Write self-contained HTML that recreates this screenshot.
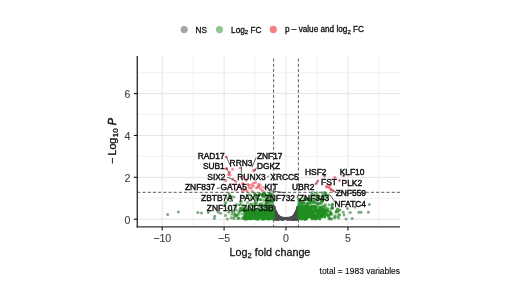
<!DOCTYPE html>
<html><head><meta charset="utf-8"><style>
html,body{margin:0;padding:0;background:#fff;}
svg{display:block;filter:blur(0.3px);}
text{font-family:"Liberation Sans",sans-serif;fill:#1a1a1a;}
.tk{font-size:10.6px;fill:#444;stroke:#444;stroke-width:0.12px;}
.ti{font-size:10.75px;fill:#111;stroke:#111;stroke-width:0.26px;}
.lb{font-size:8.4px;fill:#111;stroke:#111;stroke-width:0.42px;}
.lg{font-size:8.2px;fill:#111;stroke:#111;stroke-width:0.3px;}
.cap{font-size:8.45px;fill:#111;stroke:#111;stroke-width:0.15px;}
</style></head><body>
<svg width="520" height="292" viewBox="0 0 520 292">
<rect width="520" height="292" fill="#fff"/>
<line x1="162.20" y1="56.0" x2="162.20" y2="226.9" stroke="#e5e5e5" stroke-width="1.0"/>
<line x1="193.15" y1="56.0" x2="193.15" y2="226.9" stroke="#ececec" stroke-width="0.8"/>
<line x1="224.10" y1="56.0" x2="224.10" y2="226.9" stroke="#e5e5e5" stroke-width="1.0"/>
<line x1="255.05" y1="56.0" x2="255.05" y2="226.9" stroke="#ececec" stroke-width="0.8"/>
<line x1="286.00" y1="56.0" x2="286.00" y2="226.9" stroke="#e5e5e5" stroke-width="1.0"/>
<line x1="316.95" y1="56.0" x2="316.95" y2="226.9" stroke="#ececec" stroke-width="0.8"/>
<line x1="347.90" y1="56.0" x2="347.90" y2="226.9" stroke="#e5e5e5" stroke-width="1.0"/>
<line x1="378.85" y1="56.0" x2="378.85" y2="226.9" stroke="#ececec" stroke-width="0.8"/>
<line x1="137.3" y1="219.20" x2="400.0" y2="219.20" stroke="#e5e5e5" stroke-width="1.0"/>
<line x1="137.3" y1="198.27" x2="400.0" y2="198.27" stroke="#ececec" stroke-width="0.8"/>
<line x1="137.3" y1="177.34" x2="400.0" y2="177.34" stroke="#e5e5e5" stroke-width="1.0"/>
<line x1="137.3" y1="156.41" x2="400.0" y2="156.41" stroke="#ececec" stroke-width="0.8"/>
<line x1="137.3" y1="135.48" x2="400.0" y2="135.48" stroke="#e5e5e5" stroke-width="1.0"/>
<line x1="137.3" y1="114.55" x2="400.0" y2="114.55" stroke="#ececec" stroke-width="0.8"/>
<line x1="137.3" y1="93.62" x2="400.0" y2="93.62" stroke="#e5e5e5" stroke-width="1.0"/>
<line x1="137.3" y1="72.69" x2="400.0" y2="72.69" stroke="#ececec" stroke-width="0.8"/>
<line x1="273.62" y1="58.5" x2="273.62" y2="226.9" stroke="#4a4a4a" stroke-width="0.9" stroke-dasharray="3.1 2.09"/>
<line x1="298.38" y1="58.5" x2="298.38" y2="226.9" stroke="#4a4a4a" stroke-width="0.9" stroke-dasharray="3.1 2.09"/>
<g fill="#4d4d4d" fill-opacity="0.75"><circle cx="289.1" cy="218.2" r="1.5"/><circle cx="298.1" cy="212.3" r="1.5"/><circle cx="290.2" cy="218.3" r="1.5"/><circle cx="281.2" cy="218.7" r="1.5"/><circle cx="295.2" cy="217.8" r="1.5"/><circle cx="277.1" cy="216.0" r="1.5"/><circle cx="297.4" cy="212.8" r="1.5"/><circle cx="280.8" cy="218.3" r="1.5"/><circle cx="295.1" cy="218.6" r="1.5"/><circle cx="288.8" cy="218.5" r="1.5"/><circle cx="281.4" cy="218.1" r="1.5"/><circle cx="288.4" cy="218.7" r="1.5"/><circle cx="295.7" cy="213.7" r="1.5"/><circle cx="296.7" cy="211.8" r="1.5"/><circle cx="297.7" cy="211.6" r="1.5"/><circle cx="287.2" cy="219.0" r="1.5"/><circle cx="274.3" cy="210.2" r="1.5"/><circle cx="289.2" cy="218.3" r="1.5"/><circle cx="274.3" cy="218.3" r="1.5"/><circle cx="292.6" cy="218.8" r="1.5"/><circle cx="294.7" cy="216.7" r="1.5"/><circle cx="279.3" cy="217.4" r="1.5"/><circle cx="277.0" cy="214.9" r="1.5"/><circle cx="296.3" cy="216.9" r="1.5"/><circle cx="296.4" cy="215.9" r="1.5"/><circle cx="279.4" cy="218.2" r="1.5"/><circle cx="293.6" cy="218.5" r="1.5"/><circle cx="274.1" cy="208.3" r="1.5"/><circle cx="293.9" cy="219.1" r="1.5"/><circle cx="275.0" cy="215.2" r="1.5"/><circle cx="292.7" cy="219.2" r="1.5"/><circle cx="275.1" cy="217.3" r="1.5"/><circle cx="276.8" cy="218.2" r="1.5"/><circle cx="275.8" cy="216.6" r="1.5"/><circle cx="275.6" cy="213.0" r="1.5"/><circle cx="296.6" cy="213.7" r="1.5"/><circle cx="273.9" cy="217.1" r="1.5"/><circle cx="292.7" cy="218.6" r="1.5"/><circle cx="276.0" cy="217.7" r="1.5"/><circle cx="295.3" cy="216.6" r="1.5"/><circle cx="297.0" cy="210.7" r="1.5"/><circle cx="293.3" cy="218.7" r="1.5"/><circle cx="291.2" cy="217.6" r="1.5"/><circle cx="275.3" cy="214.4" r="1.5"/><circle cx="275.8" cy="211.9" r="1.5"/><circle cx="297.5" cy="213.2" r="1.5"/><circle cx="295.7" cy="217.0" r="1.5"/><circle cx="279.1" cy="218.9" r="1.5"/><circle cx="294.6" cy="215.7" r="1.5"/><circle cx="291.6" cy="217.9" r="1.5"/><circle cx="274.0" cy="214.3" r="1.5"/><circle cx="297.1" cy="213.5" r="1.5"/><circle cx="296.0" cy="217.8" r="1.5"/><circle cx="296.8" cy="213.7" r="1.5"/><circle cx="297.3" cy="209.3" r="1.5"/><circle cx="296.5" cy="217.1" r="1.5"/><circle cx="295.1" cy="218.6" r="1.5"/><circle cx="276.5" cy="215.2" r="1.5"/><circle cx="276.2" cy="217.5" r="1.5"/><circle cx="278.3" cy="216.4" r="1.5"/><circle cx="292.9" cy="218.8" r="1.5"/><circle cx="297.0" cy="213.6" r="1.5"/><circle cx="273.9" cy="207.9" r="1.5"/><circle cx="274.7" cy="211.9" r="1.5"/><circle cx="295.6" cy="217.2" r="1.5"/><circle cx="275.0" cy="213.9" r="1.5"/><circle cx="279.5" cy="218.1" r="1.5"/><circle cx="276.5" cy="218.6" r="1.5"/><circle cx="275.7" cy="216.3" r="1.5"/><circle cx="273.9" cy="216.1" r="1.5"/><circle cx="292.9" cy="217.1" r="1.5"/><circle cx="278.9" cy="216.7" r="1.5"/><circle cx="274.5" cy="217.6" r="1.5"/><circle cx="275.3" cy="218.9" r="1.5"/><circle cx="291.0" cy="218.5" r="1.5"/><circle cx="279.1" cy="217.8" r="1.5"/><circle cx="276.8" cy="218.4" r="1.5"/><circle cx="296.6" cy="214.8" r="1.5"/><circle cx="288.3" cy="219.1" r="1.5"/><circle cx="274.5" cy="217.9" r="1.5"/><circle cx="278.0" cy="218.7" r="1.5"/><circle cx="295.8" cy="216.3" r="1.5"/><circle cx="297.6" cy="212.2" r="1.5"/><circle cx="296.7" cy="218.7" r="1.5"/><circle cx="296.9" cy="217.9" r="1.5"/><circle cx="276.6" cy="213.5" r="1.5"/><circle cx="296.5" cy="216.6" r="1.5"/><circle cx="296.3" cy="213.9" r="1.5"/><circle cx="291.1" cy="218.9" r="1.5"/><circle cx="275.6" cy="213.3" r="1.5"/><circle cx="297.1" cy="217.7" r="1.5"/><circle cx="279.7" cy="218.5" r="1.5"/><circle cx="288.1" cy="219.0" r="1.5"/><circle cx="278.1" cy="218.0" r="1.5"/><circle cx="293.9" cy="217.6" r="1.5"/><circle cx="275.9" cy="212.4" r="1.5"/><circle cx="293.7" cy="216.2" r="1.5"/><circle cx="291.6" cy="218.1" r="1.5"/><circle cx="298.1" cy="214.3" r="1.5"/><circle cx="279.1" cy="216.8" r="1.5"/><circle cx="297.0" cy="212.1" r="1.5"/><circle cx="278.3" cy="217.8" r="1.5"/><circle cx="276.3" cy="214.8" r="1.5"/><circle cx="293.5" cy="219.1" r="1.5"/><circle cx="275.0" cy="216.2" r="1.5"/><circle cx="297.7" cy="207.7" r="1.5"/><circle cx="297.7" cy="218.7" r="1.5"/><circle cx="278.3" cy="219.0" r="1.5"/><circle cx="275.1" cy="211.2" r="1.5"/><circle cx="276.1" cy="214.6" r="1.5"/><circle cx="274.9" cy="212.9" r="1.5"/><circle cx="279.8" cy="217.2" r="1.5"/><circle cx="277.9" cy="219.0" r="1.5"/><circle cx="295.9" cy="212.4" r="1.5"/><circle cx="278.0" cy="216.5" r="1.5"/><circle cx="297.2" cy="216.9" r="1.5"/><circle cx="288.7" cy="218.8" r="1.5"/><circle cx="296.3" cy="216.5" r="1.5"/><circle cx="275.7" cy="215.8" r="1.5"/><circle cx="278.7" cy="218.0" r="1.5"/><circle cx="293.8" cy="219.1" r="1.5"/><circle cx="275.5" cy="215.3" r="1.5"/><circle cx="287.1" cy="218.5" r="1.5"/><circle cx="277.3" cy="218.4" r="1.5"/><circle cx="295.1" cy="218.5" r="1.5"/><circle cx="297.2" cy="211.4" r="1.5"/><circle cx="277.3" cy="217.3" r="1.5"/><circle cx="275.7" cy="216.4" r="1.5"/><circle cx="297.7" cy="215.6" r="1.5"/><circle cx="281.4" cy="218.9" r="1.5"/><circle cx="294.1" cy="216.3" r="1.5"/><circle cx="294.5" cy="216.6" r="1.5"/><circle cx="278.7" cy="218.4" r="1.5"/><circle cx="297.7" cy="213.2" r="1.5"/><circle cx="295.1" cy="217.5" r="1.5"/><circle cx="292.5" cy="217.8" r="1.5"/><circle cx="297.9" cy="211.5" r="1.5"/><circle cx="275.5" cy="213.0" r="1.5"/><circle cx="275.8" cy="214.5" r="1.5"/><circle cx="280.7" cy="218.8" r="1.5"/><circle cx="296.1" cy="212.7" r="1.5"/><circle cx="295.3" cy="213.7" r="1.5"/><circle cx="275.9" cy="218.8" r="1.5"/><circle cx="282.4" cy="219.1" r="1.5"/><circle cx="294.1" cy="216.5" r="1.5"/><circle cx="297.7" cy="209.1" r="1.5"/><circle cx="275.8" cy="212.7" r="1.5"/><circle cx="275.4" cy="219.1" r="1.5"/><circle cx="275.9" cy="215.8" r="1.5"/><circle cx="297.8" cy="209.5" r="1.5"/><circle cx="278.8" cy="218.3" r="1.5"/><circle cx="296.7" cy="217.4" r="1.5"/><circle cx="296.1" cy="213.4" r="1.5"/><circle cx="279.0" cy="216.5" r="1.5"/><circle cx="274.7" cy="211.9" r="1.5"/><circle cx="294.1" cy="218.4" r="1.5"/><circle cx="284.6" cy="218.4" r="1.5"/><circle cx="278.8" cy="217.8" r="1.5"/><circle cx="297.9" cy="207.0" r="1.5"/><circle cx="274.1" cy="209.3" r="1.5"/><circle cx="275.1" cy="212.1" r="1.5"/><circle cx="277.9" cy="217.7" r="1.5"/><circle cx="283.5" cy="218.2" r="1.5"/><circle cx="296.8" cy="217.5" r="1.5"/><circle cx="296.9" cy="212.2" r="1.5"/><circle cx="297.3" cy="216.5" r="1.5"/><circle cx="297.8" cy="207.6" r="1.5"/><circle cx="283.3" cy="218.5" r="1.5"/><circle cx="282.9" cy="218.6" r="1.5"/><circle cx="296.3" cy="216.2" r="1.5"/><circle cx="295.4" cy="217.2" r="1.5"/><circle cx="274.0" cy="218.0" r="1.5"/><circle cx="290.9" cy="219.2" r="1.5"/><circle cx="278.0" cy="218.7" r="1.5"/><circle cx="297.5" cy="217.7" r="1.5"/><circle cx="276.1" cy="214.6" r="1.5"/><circle cx="274.4" cy="218.8" r="1.5"/><circle cx="281.3" cy="218.3" r="1.5"/><circle cx="298.2" cy="216.7" r="1.5"/><circle cx="296.4" cy="213.1" r="1.5"/><circle cx="274.1" cy="212.3" r="1.5"/><circle cx="273.9" cy="208.8" r="1.5"/><circle cx="278.5" cy="218.0" r="1.5"/><circle cx="297.3" cy="219.1" r="1.5"/><circle cx="296.4" cy="213.0" r="1.5"/><circle cx="288.5" cy="218.8" r="1.5"/><circle cx="297.1" cy="212.2" r="1.5"/><circle cx="275.2" cy="215.7" r="1.5"/><circle cx="276.2" cy="216.6" r="1.5"/><circle cx="296.1" cy="216.4" r="1.5"/><circle cx="295.7" cy="217.4" r="1.5"/><circle cx="295.9" cy="212.8" r="1.5"/><circle cx="277.3" cy="216.0" r="1.5"/><circle cx="296.4" cy="215.5" r="1.5"/><circle cx="297.6" cy="215.1" r="1.5"/><circle cx="296.7" cy="215.8" r="1.5"/><circle cx="295.8" cy="214.3" r="1.5"/><circle cx="293.8" cy="218.2" r="1.5"/><circle cx="284.2" cy="218.4" r="1.5"/><circle cx="295.9" cy="215.3" r="1.5"/><circle cx="279.9" cy="217.4" r="1.5"/><circle cx="287.8" cy="218.8" r="1.5"/><circle cx="295.1" cy="214.2" r="1.5"/><circle cx="276.6" cy="214.6" r="1.5"/><circle cx="282.7" cy="219.0" r="1.5"/><circle cx="280.2" cy="218.1" r="1.5"/><circle cx="297.7" cy="218.4" r="1.5"/><circle cx="298.2" cy="209.3" r="1.5"/><circle cx="276.0" cy="217.9" r="1.5"/><circle cx="290.0" cy="218.8" r="1.5"/><circle cx="274.7" cy="211.7" r="1.5"/><circle cx="296.7" cy="216.1" r="1.5"/><circle cx="290.8" cy="219.0" r="1.5"/><circle cx="297.5" cy="216.0" r="1.5"/><circle cx="281.0" cy="218.1" r="1.5"/><circle cx="297.2" cy="212.9" r="1.5"/><circle cx="279.1" cy="217.7" r="1.5"/><circle cx="294.1" cy="216.4" r="1.5"/><circle cx="294.5" cy="218.1" r="1.5"/><circle cx="273.8" cy="216.6" r="1.5"/><circle cx="273.8" cy="212.8" r="1.5"/><circle cx="285.7" cy="218.5" r="1.5"/><circle cx="282.2" cy="218.3" r="1.5"/><circle cx="274.0" cy="218.6" r="1.5"/><circle cx="277.7" cy="217.8" r="1.5"/><circle cx="289.3" cy="218.3" r="1.5"/><circle cx="298.1" cy="217.1" r="1.5"/><circle cx="297.6" cy="215.3" r="1.5"/><circle cx="294.4" cy="218.6" r="1.5"/><circle cx="295.3" cy="219.2" r="1.5"/><circle cx="297.8" cy="217.6" r="1.5"/><circle cx="294.6" cy="218.7" r="1.5"/><circle cx="274.1" cy="210.9" r="1.5"/><circle cx="285.7" cy="218.3" r="1.5"/><circle cx="295.7" cy="213.3" r="1.5"/><circle cx="275.5" cy="215.5" r="1.5"/><circle cx="292.6" cy="217.5" r="1.5"/><circle cx="273.8" cy="216.3" r="1.5"/><circle cx="278.7" cy="216.7" r="1.5"/><circle cx="297.6" cy="212.5" r="1.5"/><circle cx="294.1" cy="216.3" r="1.5"/><circle cx="282.4" cy="218.2" r="1.5"/><circle cx="274.4" cy="217.6" r="1.5"/><circle cx="284.2" cy="218.8" r="1.5"/><circle cx="276.0" cy="215.5" r="1.5"/><circle cx="297.5" cy="210.8" r="1.5"/><circle cx="297.2" cy="215.3" r="1.5"/><circle cx="276.6" cy="215.8" r="1.5"/><circle cx="288.3" cy="218.3" r="1.5"/><circle cx="296.8" cy="214.6" r="1.5"/><circle cx="275.5" cy="215.4" r="1.5"/><circle cx="274.5" cy="215.1" r="1.5"/><circle cx="277.6" cy="215.4" r="1.5"/><circle cx="293.6" cy="217.1" r="1.5"/><circle cx="296.7" cy="219.2" r="1.5"/><circle cx="297.8" cy="211.4" r="1.5"/><circle cx="277.8" cy="217.6" r="1.5"/><circle cx="278.4" cy="218.6" r="1.5"/><circle cx="277.6" cy="219.1" r="1.5"/><circle cx="297.2" cy="213.2" r="1.5"/><circle cx="276.4" cy="216.6" r="1.5"/><circle cx="297.7" cy="218.7" r="1.5"/><circle cx="288.0" cy="218.2" r="1.5"/><circle cx="289.2" cy="219.1" r="1.5"/><circle cx="276.1" cy="218.1" r="1.5"/><circle cx="294.8" cy="215.6" r="1.5"/><circle cx="278.7" cy="216.7" r="1.5"/><circle cx="297.7" cy="216.9" r="1.5"/><circle cx="283.6" cy="219.0" r="1.5"/><circle cx="275.0" cy="212.5" r="1.5"/><circle cx="295.8" cy="214.3" r="1.5"/><circle cx="296.1" cy="213.8" r="1.5"/><circle cx="276.9" cy="217.0" r="1.5"/><circle cx="295.7" cy="218.0" r="1.5"/><circle cx="298.1" cy="217.6" r="1.5"/><circle cx="277.1" cy="219.0" r="1.5"/><circle cx="293.3" cy="218.1" r="1.5"/><circle cx="274.2" cy="209.5" r="1.5"/><circle cx="290.9" cy="218.4" r="1.5"/><circle cx="295.9" cy="214.0" r="1.5"/><circle cx="279.2" cy="218.1" r="1.5"/><circle cx="276.9" cy="216.0" r="1.5"/><circle cx="290.5" cy="218.9" r="1.5"/><circle cx="274.4" cy="212.8" r="1.5"/><circle cx="275.9" cy="215.1" r="1.5"/><circle cx="275.1" cy="212.9" r="1.5"/><circle cx="274.3" cy="212.0" r="1.5"/><circle cx="275.1" cy="211.7" r="1.5"/><circle cx="296.7" cy="217.3" r="1.5"/><circle cx="294.7" cy="214.7" r="1.5"/><circle cx="293.5" cy="217.3" r="1.5"/><circle cx="290.8" cy="217.8" r="1.5"/><circle cx="274.6" cy="215.5" r="1.5"/><circle cx="293.9" cy="217.4" r="1.5"/><circle cx="273.8" cy="206.8" r="1.5"/><circle cx="296.5" cy="215.3" r="1.5"/><circle cx="280.9" cy="218.5" r="1.5"/><circle cx="276.0" cy="215.4" r="1.5"/><circle cx="298.1" cy="208.3" r="1.5"/><circle cx="298.0" cy="207.2" r="1.5"/><circle cx="296.1" cy="212.9" r="1.5"/><circle cx="274.6" cy="214.6" r="1.5"/><circle cx="274.1" cy="215.2" r="1.5"/><circle cx="279.9" cy="217.8" r="1.5"/><circle cx="275.5" cy="215.5" r="1.5"/><circle cx="293.6" cy="219.2" r="1.5"/><circle cx="295.8" cy="214.3" r="1.5"/><circle cx="296.7" cy="211.4" r="1.5"/><circle cx="274.4" cy="217.9" r="1.5"/><circle cx="273.8" cy="208.6" r="1.5"/><circle cx="292.2" cy="218.6" r="1.5"/><circle cx="275.3" cy="214.5" r="1.5"/><circle cx="275.6" cy="211.2" r="1.5"/><circle cx="295.8" cy="217.8" r="1.5"/><circle cx="297.7" cy="213.7" r="1.5"/><circle cx="298.2" cy="207.9" r="1.5"/><circle cx="297.1" cy="210.8" r="1.5"/><circle cx="274.0" cy="216.4" r="1.5"/><circle cx="297.7" cy="217.9" r="1.5"/><circle cx="275.5" cy="216.5" r="1.5"/><circle cx="293.5" cy="218.6" r="1.5"/><circle cx="276.4" cy="215.0" r="1.5"/><circle cx="296.6" cy="214.3" r="1.5"/><circle cx="275.7" cy="216.3" r="1.5"/><circle cx="283.2" cy="218.8" r="1.5"/><circle cx="296.7" cy="213.9" r="1.5"/><circle cx="291.0" cy="218.4" r="1.5"/><circle cx="276.9" cy="215.3" r="1.5"/><circle cx="295.6" cy="215.3" r="1.5"/><circle cx="297.2" cy="215.0" r="1.5"/><circle cx="296.1" cy="216.2" r="1.5"/><circle cx="297.4" cy="216.0" r="1.5"/><circle cx="275.8" cy="217.9" r="1.5"/><circle cx="298.0" cy="209.1" r="1.5"/><circle cx="282.8" cy="218.5" r="1.5"/><circle cx="282.3" cy="219.2" r="1.5"/><circle cx="277.0" cy="215.2" r="1.5"/><circle cx="294.4" cy="215.1" r="1.5"/><circle cx="296.5" cy="213.7" r="1.5"/><circle cx="290.1" cy="218.2" r="1.5"/><circle cx="297.5" cy="217.5" r="1.5"/><circle cx="278.4" cy="216.0" r="1.5"/><circle cx="274.5" cy="215.1" r="1.5"/><circle cx="297.8" cy="215.9" r="1.5"/><circle cx="291.6" cy="217.6" r="1.5"/><circle cx="278.1" cy="218.6" r="1.5"/><circle cx="279.1" cy="218.0" r="1.5"/><circle cx="296.5" cy="211.3" r="1.5"/><circle cx="276.0" cy="212.9" r="1.5"/><circle cx="298.2" cy="209.4" r="1.5"/><circle cx="287.4" cy="219.0" r="1.5"/><circle cx="282.5" cy="219.2" r="1.5"/><circle cx="277.3" cy="215.0" r="1.5"/><circle cx="292.7" cy="217.3" r="1.5"/><circle cx="274.4" cy="218.8" r="1.5"/><circle cx="293.5" cy="219.1" r="1.5"/><circle cx="275.0" cy="216.6" r="1.5"/><circle cx="296.8" cy="210.9" r="1.5"/><circle cx="274.0" cy="218.3" r="1.5"/><circle cx="283.1" cy="219.0" r="1.5"/><circle cx="297.7" cy="215.0" r="1.5"/><circle cx="278.2" cy="218.9" r="1.5"/><circle cx="287.0" cy="218.4" r="1.5"/><circle cx="296.4" cy="215.6" r="1.5"/><circle cx="274.1" cy="210.5" r="1.5"/><circle cx="297.9" cy="208.7" r="1.5"/><circle cx="297.4" cy="212.7" r="1.5"/><circle cx="294.2" cy="216.6" r="1.5"/><circle cx="277.0" cy="216.1" r="1.5"/><circle cx="293.7" cy="217.9" r="1.5"/><circle cx="274.0" cy="213.0" r="1.5"/><circle cx="293.2" cy="218.1" r="1.5"/><circle cx="278.6" cy="219.0" r="1.5"/><circle cx="274.4" cy="208.0" r="1.5"/><circle cx="280.2" cy="217.7" r="1.5"/><circle cx="293.6" cy="216.5" r="1.5"/><circle cx="289.8" cy="218.5" r="1.5"/><circle cx="274.7" cy="215.2" r="1.5"/><circle cx="296.9" cy="213.8" r="1.5"/><circle cx="273.9" cy="214.0" r="1.5"/><circle cx="281.2" cy="218.4" r="1.5"/><circle cx="297.4" cy="219.0" r="1.5"/><circle cx="297.9" cy="214.0" r="1.5"/><circle cx="296.8" cy="212.4" r="1.5"/><circle cx="296.5" cy="213.4" r="1.5"/><circle cx="288.5" cy="218.4" r="1.5"/><circle cx="282.1" cy="218.4" r="1.5"/><circle cx="295.9" cy="213.8" r="1.5"/><circle cx="282.6" cy="219.1" r="1.5"/><circle cx="288.8" cy="218.6" r="1.5"/><circle cx="281.6" cy="218.1" r="1.5"/><circle cx="280.6" cy="218.3" r="1.5"/><circle cx="295.0" cy="218.7" r="1.5"/><circle cx="297.5" cy="211.0" r="1.5"/><circle cx="274.6" cy="218.1" r="1.5"/><circle cx="278.3" cy="218.6" r="1.5"/><circle cx="297.8" cy="208.8" r="1.5"/><circle cx="294.8" cy="214.9" r="1.5"/><circle cx="275.6" cy="215.5" r="1.5"/><circle cx="274.1" cy="206.8" r="1.5"/><circle cx="284.4" cy="218.2" r="1.5"/><circle cx="295.7" cy="214.1" r="1.5"/><circle cx="296.5" cy="217.8" r="1.5"/><circle cx="273.8" cy="218.0" r="1.5"/><circle cx="274.8" cy="216.4" r="1.5"/><circle cx="287.7" cy="218.2" r="1.5"/><circle cx="281.9" cy="218.3" r="1.5"/><circle cx="296.0" cy="219.0" r="1.5"/><circle cx="296.6" cy="213.3" r="1.5"/><circle cx="275.7" cy="215.4" r="1.5"/><circle cx="297.9" cy="215.6" r="1.5"/><circle cx="293.5" cy="219.1" r="1.5"/><circle cx="297.2" cy="214.8" r="1.5"/><circle cx="275.2" cy="219.1" r="1.5"/><circle cx="296.7" cy="216.5" r="1.5"/><circle cx="279.5" cy="217.2" r="1.5"/><circle cx="294.2" cy="217.0" r="1.5"/><circle cx="276.7" cy="217.9" r="1.5"/><circle cx="273.8" cy="215.1" r="1.5"/><circle cx="274.3" cy="210.3" r="1.5"/><circle cx="285.4" cy="218.5" r="1.5"/><circle cx="274.9" cy="210.2" r="1.5"/><circle cx="296.0" cy="214.5" r="1.5"/><circle cx="280.9" cy="217.7" r="1.5"/><circle cx="274.7" cy="211.1" r="1.5"/><circle cx="274.1" cy="213.4" r="1.5"/><circle cx="297.7" cy="214.3" r="1.5"/><circle cx="296.7" cy="213.8" r="1.5"/><circle cx="297.4" cy="217.3" r="1.5"/><circle cx="279.6" cy="218.2" r="1.5"/><circle cx="276.2" cy="218.9" r="1.5"/><circle cx="275.7" cy="212.5" r="1.5"/><circle cx="293.2" cy="219.0" r="1.5"/><circle cx="297.1" cy="215.8" r="1.5"/><circle cx="294.7" cy="217.1" r="1.5"/><circle cx="277.1" cy="216.0" r="1.5"/><circle cx="277.8" cy="219.0" r="1.5"/><circle cx="273.9" cy="216.0" r="1.5"/><circle cx="276.6" cy="218.3" r="1.5"/><circle cx="274.1" cy="211.7" r="1.5"/><circle cx="292.9" cy="218.7" r="1.5"/><circle cx="276.5" cy="213.7" r="1.5"/><circle cx="295.8" cy="218.9" r="1.5"/><circle cx="275.8" cy="212.7" r="1.5"/><circle cx="278.0" cy="219.0" r="1.5"/><circle cx="293.4" cy="218.3" r="1.5"/><circle cx="286.6" cy="218.8" r="1.5"/><circle cx="293.3" cy="216.8" r="1.5"/><circle cx="274.4" cy="218.8" r="1.5"/><circle cx="274.2" cy="216.2" r="1.5"/></g>
<g fill="#6a9a6e" fill-opacity="0.85"><circle cx="167.7" cy="214.4" r="1.5"/><circle cx="178.4" cy="212.1" r="1.5"/><circle cx="197.9" cy="212.5" r="1.5"/><circle cx="201.5" cy="212.9" r="1.5"/><circle cx="208.2" cy="212.4" r="1.5"/><circle cx="214.7" cy="216.2" r="1.5"/><circle cx="214.3" cy="218.5" r="1.5"/><circle cx="218.3" cy="212.2" r="1.5"/><circle cx="220.8" cy="213.2" r="1.5"/><circle cx="227.3" cy="219.0" r="1.5"/><circle cx="231.1" cy="217.8" r="1.5"/><circle cx="233.8" cy="218.6" r="1.5"/><circle cx="228.8" cy="212.3" r="1.5"/><circle cx="232.1" cy="211.5" r="1.5"/><circle cx="236.2" cy="209.9" r="1.5"/><circle cx="238.7" cy="213.1" r="1.5"/><circle cx="240.3" cy="208.2" r="1.5"/><circle cx="242.0" cy="218.5" r="1.5"/><circle cx="225.5" cy="215.5" r="1.5"/><circle cx="236.0" cy="216.0" r="1.5"/><circle cx="369.3" cy="204.4" r="1.5"/><circle cx="368.4" cy="212.2" r="1.5"/><circle cx="358.9" cy="212.2" r="1.5"/><circle cx="361.0" cy="212.2" r="1.5"/><circle cx="352.2" cy="218.6" r="1.5"/><circle cx="350.2" cy="212.5" r="1.5"/><circle cx="347.5" cy="208.5" r="1.5"/><circle cx="355.0" cy="207.0" r="1.5"/><circle cx="344.0" cy="215.0" r="1.5"/><circle cx="346.0" cy="219.0" r="1.5"/><circle cx="340.0" cy="210.0" r="1.5"/><circle cx="329.0" cy="204.8" r="1.5"/><circle cx="332.0" cy="205.5" r="1.5"/><circle cx="336.4" cy="211.3" r="1.5"/><circle cx="339.0" cy="210.4" r="1.5"/><circle cx="339.3" cy="215.2" r="1.5"/><circle cx="334.5" cy="218.0" r="1.5"/><circle cx="331.7" cy="219.0" r="1.5"/><circle cx="343.2" cy="212.3" r="1.5"/><circle cx="322.5" cy="192.7" r="1.5"/><circle cx="326.0" cy="194.5" r="1.5"/></g>
<g fill="#228b22" fill-opacity="0.55"><circle cx="271.6" cy="200.9" r="1.5"/><circle cx="249.0" cy="210.2" r="1.5"/><circle cx="262.3" cy="203.4" r="1.5"/><circle cx="255.6" cy="194.3" r="1.5"/><circle cx="255.4" cy="209.7" r="1.5"/><circle cx="266.4" cy="202.3" r="1.5"/><circle cx="270.5" cy="195.0" r="1.5"/><circle cx="266.2" cy="204.2" r="1.5"/><circle cx="269.5" cy="200.9" r="1.5"/><circle cx="246.9" cy="208.8" r="1.5"/><circle cx="262.2" cy="205.4" r="1.5"/><circle cx="272.3" cy="203.5" r="1.5"/><circle cx="257.1" cy="199.5" r="1.5"/><circle cx="230.6" cy="197.4" r="1.5"/><circle cx="254.8" cy="194.3" r="1.5"/><circle cx="241.1" cy="196.9" r="1.5"/><circle cx="267.0" cy="205.6" r="1.5"/><circle cx="241.1" cy="210.4" r="1.5"/><circle cx="265.4" cy="195.4" r="1.5"/><circle cx="267.8" cy="201.7" r="1.5"/><circle cx="266.5" cy="199.0" r="1.5"/><circle cx="244.9" cy="209.7" r="1.5"/><circle cx="264.9" cy="195.1" r="1.5"/><circle cx="264.8" cy="192.8" r="1.5"/><circle cx="268.3" cy="201.5" r="1.5"/><circle cx="270.3" cy="194.8" r="1.5"/><circle cx="262.9" cy="195.6" r="1.5"/><circle cx="254.6" cy="206.0" r="1.5"/><circle cx="242.5" cy="209.6" r="1.5"/><circle cx="231.6" cy="196.4" r="1.5"/><circle cx="268.8" cy="200.2" r="1.5"/><circle cx="266.5" cy="202.2" r="1.5"/><circle cx="225.8" cy="202.5" r="1.5"/><circle cx="259.4" cy="210.0" r="1.5"/><circle cx="272.4" cy="202.1" r="1.5"/><circle cx="264.6" cy="193.6" r="1.5"/><circle cx="259.8" cy="194.5" r="1.5"/><circle cx="259.6" cy="193.7" r="1.5"/><circle cx="267.2" cy="210.3" r="1.5"/><circle cx="250.9" cy="198.8" r="1.5"/><circle cx="269.9" cy="206.8" r="1.5"/><circle cx="263.1" cy="194.3" r="1.5"/><circle cx="255.6" cy="202.9" r="1.5"/><circle cx="259.7" cy="204.4" r="1.5"/><circle cx="265.3" cy="207.5" r="1.5"/><circle cx="254.2" cy="210.4" r="1.5"/><circle cx="261.4" cy="209.2" r="1.5"/><circle cx="270.9" cy="196.8" r="1.5"/><circle cx="241.4" cy="201.4" r="1.5"/><circle cx="260.9" cy="199.7" r="1.5"/><circle cx="273.2" cy="209.0" r="1.5"/><circle cx="251.1" cy="203.9" r="1.5"/><circle cx="268.0" cy="206.9" r="1.5"/><circle cx="230.4" cy="200.8" r="1.5"/><circle cx="268.6" cy="209.6" r="1.5"/><circle cx="259.3" cy="210.5" r="1.5"/><circle cx="241.5" cy="207.9" r="1.5"/><circle cx="250.3" cy="194.9" r="1.5"/><circle cx="267.9" cy="200.1" r="1.5"/><circle cx="254.7" cy="202.4" r="1.5"/><circle cx="264.8" cy="194.5" r="1.5"/><circle cx="268.6" cy="200.4" r="1.5"/><circle cx="273.3" cy="200.3" r="1.5"/><circle cx="252.0" cy="204.8" r="1.5"/><circle cx="265.7" cy="203.6" r="1.5"/><circle cx="239.2" cy="204.8" r="1.5"/><circle cx="272.6" cy="200.8" r="1.5"/><circle cx="259.3" cy="199.7" r="1.5"/><circle cx="263.2" cy="205.4" r="1.5"/><circle cx="253.1" cy="206.2" r="1.5"/><circle cx="268.5" cy="207.5" r="1.5"/><circle cx="272.4" cy="207.0" r="1.5"/><circle cx="255.3" cy="203.5" r="1.5"/><circle cx="263.5" cy="206.6" r="1.5"/><circle cx="268.6" cy="198.2" r="1.5"/><circle cx="228.4" cy="208.2" r="1.5"/><circle cx="254.5" cy="193.1" r="1.5"/><circle cx="260.7" cy="194.4" r="1.5"/><circle cx="270.2" cy="196.4" r="1.5"/><circle cx="271.5" cy="206.8" r="1.5"/><circle cx="271.7" cy="210.8" r="1.5"/><circle cx="250.5" cy="204.4" r="1.5"/><circle cx="266.1" cy="197.3" r="1.5"/><circle cx="268.7" cy="195.0" r="1.5"/><circle cx="270.1" cy="192.9" r="1.5"/><circle cx="240.3" cy="201.6" r="1.5"/><circle cx="229.2" cy="195.3" r="1.5"/><circle cx="224.6" cy="205.4" r="1.5"/><circle cx="264.8" cy="205.3" r="1.5"/><circle cx="263.9" cy="200.6" r="1.5"/><circle cx="241.9" cy="204.8" r="1.5"/><circle cx="260.3" cy="205.7" r="1.5"/><circle cx="263.9" cy="209.9" r="1.5"/><circle cx="260.8" cy="199.5" r="1.5"/><circle cx="259.0" cy="194.8" r="1.5"/><circle cx="261.6" cy="205.7" r="1.5"/><circle cx="225.2" cy="203.4" r="1.5"/><circle cx="269.9" cy="201.5" r="1.5"/><circle cx="253.9" cy="205.9" r="1.5"/><circle cx="269.1" cy="209.3" r="1.5"/><circle cx="260.3" cy="203.9" r="1.5"/><circle cx="247.8" cy="207.9" r="1.5"/><circle cx="258.2" cy="208.1" r="1.5"/><circle cx="269.8" cy="208.7" r="1.5"/><circle cx="256.7" cy="197.4" r="1.5"/><circle cx="264.2" cy="195.6" r="1.5"/><circle cx="247.3" cy="194.9" r="1.5"/><circle cx="256.7" cy="202.6" r="1.5"/><circle cx="264.7" cy="196.2" r="1.5"/><circle cx="267.8" cy="206.3" r="1.5"/><circle cx="256.3" cy="195.5" r="1.5"/><circle cx="272.5" cy="196.6" r="1.5"/><circle cx="258.9" cy="205.4" r="1.5"/><circle cx="268.1" cy="198.4" r="1.5"/><circle cx="234.0" cy="197.1" r="1.5"/><circle cx="272.7" cy="200.1" r="1.5"/><circle cx="266.8" cy="206.7" r="1.5"/><circle cx="272.5" cy="200.2" r="1.5"/><circle cx="268.3" cy="204.6" r="1.5"/><circle cx="262.2" cy="194.3" r="1.5"/><circle cx="268.2" cy="200.2" r="1.5"/><circle cx="256.6" cy="197.0" r="1.5"/><circle cx="243.0" cy="206.6" r="1.5"/><circle cx="241.3" cy="209.4" r="1.5"/><circle cx="263.5" cy="197.3" r="1.5"/><circle cx="236.4" cy="204.4" r="1.5"/><circle cx="255.1" cy="198.0" r="1.5"/><circle cx="272.6" cy="197.0" r="1.5"/><circle cx="244.2" cy="208.3" r="1.5"/><circle cx="267.2" cy="202.8" r="1.5"/><circle cx="228.7" cy="193.2" r="1.5"/><circle cx="270.1" cy="203.5" r="1.5"/><circle cx="271.3" cy="209.8" r="1.5"/><circle cx="269.5" cy="193.6" r="1.5"/><circle cx="235.5" cy="207.1" r="1.5"/><circle cx="257.7" cy="199.1" r="1.5"/><circle cx="263.8" cy="195.2" r="1.5"/><circle cx="271.9" cy="205.8" r="1.5"/><circle cx="271.4" cy="194.1" r="1.5"/><circle cx="247.6" cy="202.5" r="1.5"/><circle cx="271.9" cy="195.1" r="1.5"/><circle cx="249.0" cy="194.8" r="1.5"/><circle cx="227.5" cy="198.6" r="1.5"/><circle cx="262.5" cy="196.1" r="1.5"/><circle cx="271.0" cy="195.4" r="1.5"/><circle cx="267.5" cy="202.7" r="1.5"/><circle cx="240.2" cy="210.7" r="1.5"/><circle cx="266.7" cy="195.8" r="1.5"/><circle cx="265.1" cy="194.2" r="1.5"/><circle cx="253.1" cy="206.6" r="1.5"/><circle cx="238.2" cy="215.1" r="1.5"/><circle cx="240.5" cy="211.0" r="1.5"/><circle cx="238.4" cy="218.3" r="1.5"/><circle cx="243.3" cy="217.1" r="1.5"/><circle cx="240.1" cy="209.7" r="1.5"/><circle cx="237.8" cy="218.6" r="1.5"/><circle cx="239.0" cy="218.1" r="1.5"/><circle cx="233.9" cy="216.8" r="1.5"/><circle cx="233.9" cy="212.6" r="1.5"/><circle cx="241.7" cy="214.1" r="1.5"/><circle cx="244.5" cy="218.4" r="1.5"/><circle cx="236.0" cy="215.5" r="1.5"/><circle cx="238.9" cy="211.5" r="1.5"/><circle cx="235.3" cy="214.3" r="1.5"/><circle cx="236.7" cy="215.3" r="1.5"/><circle cx="232.3" cy="210.6" r="1.5"/><circle cx="231.9" cy="214.3" r="1.5"/><circle cx="234.6" cy="214.4" r="1.5"/><circle cx="318.6" cy="203.5" r="1.5"/><circle cx="305.2" cy="199.4" r="1.5"/><circle cx="305.1" cy="198.7" r="1.5"/><circle cx="299.4" cy="205.7" r="1.5"/><circle cx="323.0" cy="201.3" r="1.5"/><circle cx="312.2" cy="199.9" r="1.5"/><circle cx="305.9" cy="199.3" r="1.5"/><circle cx="305.5" cy="199.4" r="1.5"/><circle cx="310.8" cy="199.1" r="1.5"/><circle cx="322.2" cy="199.9" r="1.5"/><circle cx="302.2" cy="202.6" r="1.5"/><circle cx="321.0" cy="202.7" r="1.5"/><circle cx="303.8" cy="202.5" r="1.5"/><circle cx="301.9" cy="205.6" r="1.5"/><circle cx="313.1" cy="206.1" r="1.5"/><circle cx="308.6" cy="203.7" r="1.5"/><circle cx="318.2" cy="203.4" r="1.5"/><circle cx="309.4" cy="201.2" r="1.5"/><circle cx="302.7" cy="202.4" r="1.5"/><circle cx="303.4" cy="203.0" r="1.5"/><circle cx="318.4" cy="198.7" r="1.5"/><circle cx="322.0" cy="199.9" r="1.5"/><circle cx="299.6" cy="202.8" r="1.5"/><circle cx="307.6" cy="203.2" r="1.5"/><circle cx="310.0" cy="200.8" r="1.5"/><circle cx="298.8" cy="201.5" r="1.5"/><circle cx="300.0" cy="200.3" r="1.5"/><circle cx="321.5" cy="200.9" r="1.5"/><circle cx="317.6" cy="198.4" r="1.5"/><circle cx="321.1" cy="203.9" r="1.5"/><circle cx="313.6" cy="202.4" r="1.5"/><circle cx="311.4" cy="202.8" r="1.5"/><circle cx="299.0" cy="203.6" r="1.5"/><circle cx="299.3" cy="199.2" r="1.5"/><circle cx="318.0" cy="205.8" r="1.5"/><circle cx="314.3" cy="199.2" r="1.5"/><circle cx="314.1" cy="201.0" r="1.5"/><circle cx="310.5" cy="203.1" r="1.5"/><circle cx="306.8" cy="205.5" r="1.5"/><circle cx="306.1" cy="204.6" r="1.5"/><circle cx="309.1" cy="203.3" r="1.5"/><circle cx="306.2" cy="198.3" r="1.5"/><circle cx="304.2" cy="203.1" r="1.5"/><circle cx="318.8" cy="203.3" r="1.5"/><circle cx="299.8" cy="201.7" r="1.5"/><circle cx="307.0" cy="199.9" r="1.5"/><circle cx="306.8" cy="203.6" r="1.5"/><circle cx="311.2" cy="201.2" r="1.5"/><circle cx="301.8" cy="205.7" r="1.5"/><circle cx="317.4" cy="204.2" r="1.5"/><circle cx="321.6" cy="199.8" r="1.5"/><circle cx="311.7" cy="205.6" r="1.5"/><circle cx="305.0" cy="206.1" r="1.5"/><circle cx="312.9" cy="201.8" r="1.5"/><circle cx="316.4" cy="203.4" r="1.5"/><circle cx="320.8" cy="199.3" r="1.5"/><circle cx="315.5" cy="202.2" r="1.5"/><circle cx="321.4" cy="202.2" r="1.5"/><circle cx="298.7" cy="199.1" r="1.5"/><circle cx="300.8" cy="203.3" r="1.5"/><circle cx="307.6" cy="199.4" r="1.5"/><circle cx="313.4" cy="201.9" r="1.5"/><circle cx="322.9" cy="199.2" r="1.5"/><circle cx="314.4" cy="202.8" r="1.5"/><circle cx="304.2" cy="199.2" r="1.5"/><circle cx="315.9" cy="199.0" r="1.5"/><circle cx="308.6" cy="198.6" r="1.5"/><circle cx="300.5" cy="203.9" r="1.5"/><circle cx="321.8" cy="200.1" r="1.5"/><circle cx="303.0" cy="203.4" r="1.5"/><circle cx="315.1" cy="194.6" r="1.5"/><circle cx="324.5" cy="194.7" r="1.5"/><circle cx="318.7" cy="197.9" r="1.5"/><circle cx="317.3" cy="192.8" r="1.5"/><circle cx="325.3" cy="194.8" r="1.5"/><circle cx="322.4" cy="196.0" r="1.5"/><circle cx="311.1" cy="197.1" r="1.5"/><circle cx="316.9" cy="198.2" r="1.5"/><circle cx="317.8" cy="196.4" r="1.5"/><circle cx="318.9" cy="195.8" r="1.5"/><circle cx="326.2" cy="195.2" r="1.5"/><circle cx="328.5" cy="195.0" r="1.5"/><circle cx="317.2" cy="195.6" r="1.5"/><circle cx="324.3" cy="197.4" r="1.5"/><circle cx="324.8" cy="192.6" r="1.5"/><circle cx="325.2" cy="194.2" r="1.5"/><circle cx="327.3" cy="198.2" r="1.5"/><circle cx="321.8" cy="196.0" r="1.5"/><circle cx="314.4" cy="196.0" r="1.5"/><circle cx="311.6" cy="194.2" r="1.5"/><circle cx="312.7" cy="196.1" r="1.5"/><circle cx="312.6" cy="192.4" r="1.5"/><circle cx="326.0" cy="210.6" r="1.5"/><circle cx="322.3" cy="214.6" r="1.5"/><circle cx="329.0" cy="218.9" r="1.5"/><circle cx="337.2" cy="209.1" r="1.5"/><circle cx="322.5" cy="212.2" r="1.5"/><circle cx="324.0" cy="212.6" r="1.5"/><circle cx="335.3" cy="216.0" r="1.5"/><circle cx="336.3" cy="211.6" r="1.5"/><circle cx="332.7" cy="203.9" r="1.5"/><circle cx="324.9" cy="207.8" r="1.5"/><circle cx="337.8" cy="211.4" r="1.5"/><circle cx="325.9" cy="207.0" r="1.5"/><circle cx="329.8" cy="218.7" r="1.5"/><circle cx="337.6" cy="217.0" r="1.5"/><circle cx="334.8" cy="216.5" r="1.5"/><circle cx="329.8" cy="211.0" r="1.5"/><circle cx="326.6" cy="210.3" r="1.5"/><circle cx="339.0" cy="214.2" r="1.5"/><circle cx="332.5" cy="204.4" r="1.5"/><circle cx="324.5" cy="205.4" r="1.5"/><circle cx="337.9" cy="209.3" r="1.5"/><circle cx="322.7" cy="215.0" r="1.5"/><circle cx="325.8" cy="211.1" r="1.5"/><circle cx="325.4" cy="204.5" r="1.5"/><circle cx="338.7" cy="218.0" r="1.5"/><circle cx="336.1" cy="212.5" r="1.5"/><circle cx="330.9" cy="212.1" r="1.5"/><circle cx="328.1" cy="211.3" r="1.5"/><circle cx="332.1" cy="214.3" r="1.5"/><circle cx="325.9" cy="213.4" r="1.5"/></g>
<g fill="#228e22" fill-opacity="0.8"><circle cx="272.8" cy="213.8" r="1.5"/><circle cx="250.9" cy="218.3" r="1.5"/><circle cx="245.0" cy="219.1" r="1.5"/><circle cx="248.4" cy="216.0" r="1.5"/><circle cx="249.0" cy="217.0" r="1.5"/><circle cx="262.6" cy="218.0" r="1.5"/><circle cx="248.4" cy="211.9" r="1.5"/><circle cx="252.6" cy="213.3" r="1.5"/><circle cx="252.7" cy="212.6" r="1.5"/><circle cx="244.8" cy="216.7" r="1.5"/><circle cx="269.5" cy="216.4" r="1.5"/><circle cx="262.9" cy="217.2" r="1.5"/><circle cx="247.6" cy="215.2" r="1.5"/><circle cx="257.7" cy="218.9" r="1.5"/><circle cx="259.8" cy="215.2" r="1.5"/><circle cx="254.9" cy="212.1" r="1.5"/><circle cx="270.1" cy="215.4" r="1.5"/><circle cx="253.3" cy="211.9" r="1.5"/><circle cx="266.4" cy="214.4" r="1.5"/><circle cx="262.2" cy="216.0" r="1.5"/><circle cx="265.4" cy="213.8" r="1.5"/><circle cx="269.3" cy="216.4" r="1.5"/><circle cx="246.5" cy="211.0" r="1.5"/><circle cx="261.4" cy="211.6" r="1.5"/><circle cx="266.1" cy="211.9" r="1.5"/><circle cx="254.9" cy="211.1" r="1.5"/><circle cx="262.3" cy="215.4" r="1.5"/><circle cx="249.4" cy="218.3" r="1.5"/><circle cx="251.2" cy="216.2" r="1.5"/><circle cx="254.1" cy="213.4" r="1.5"/><circle cx="272.2" cy="213.9" r="1.5"/><circle cx="263.7" cy="219.1" r="1.5"/><circle cx="264.6" cy="214.2" r="1.5"/><circle cx="267.0" cy="215.9" r="1.5"/><circle cx="263.1" cy="214.4" r="1.5"/><circle cx="267.1" cy="215.1" r="1.5"/><circle cx="268.3" cy="211.0" r="1.5"/><circle cx="259.8" cy="214.5" r="1.5"/><circle cx="264.9" cy="214.3" r="1.5"/><circle cx="272.5" cy="210.4" r="1.5"/><circle cx="258.9" cy="212.7" r="1.5"/><circle cx="247.6" cy="210.7" r="1.5"/><circle cx="262.4" cy="219.0" r="1.5"/><circle cx="244.8" cy="211.2" r="1.5"/><circle cx="267.1" cy="213.4" r="1.5"/><circle cx="256.2" cy="216.9" r="1.5"/><circle cx="258.5" cy="210.7" r="1.5"/><circle cx="262.7" cy="218.8" r="1.5"/><circle cx="250.5" cy="218.4" r="1.5"/><circle cx="269.5" cy="211.2" r="1.5"/><circle cx="271.2" cy="215.1" r="1.5"/><circle cx="253.6" cy="218.6" r="1.5"/><circle cx="251.9" cy="216.0" r="1.5"/><circle cx="255.7" cy="216.0" r="1.5"/><circle cx="265.5" cy="211.1" r="1.5"/><circle cx="255.5" cy="211.5" r="1.5"/><circle cx="253.0" cy="216.7" r="1.5"/><circle cx="267.5" cy="218.4" r="1.5"/><circle cx="246.7" cy="209.9" r="1.5"/><circle cx="258.1" cy="215.3" r="1.5"/><circle cx="266.8" cy="210.8" r="1.5"/><circle cx="255.2" cy="211.6" r="1.5"/><circle cx="248.2" cy="210.8" r="1.5"/><circle cx="256.5" cy="215.6" r="1.5"/><circle cx="245.0" cy="218.6" r="1.5"/><circle cx="255.8" cy="218.1" r="1.5"/><circle cx="263.6" cy="209.8" r="1.5"/><circle cx="252.9" cy="212.1" r="1.5"/><circle cx="261.4" cy="213.4" r="1.5"/><circle cx="266.9" cy="214.6" r="1.5"/><circle cx="268.4" cy="217.7" r="1.5"/><circle cx="264.2" cy="214.2" r="1.5"/><circle cx="250.2" cy="217.0" r="1.5"/><circle cx="271.9" cy="213.2" r="1.5"/><circle cx="258.9" cy="214.5" r="1.5"/><circle cx="269.0" cy="213.2" r="1.5"/><circle cx="250.9" cy="210.4" r="1.5"/><circle cx="269.0" cy="211.8" r="1.5"/><circle cx="265.0" cy="212.9" r="1.5"/><circle cx="253.9" cy="210.0" r="1.5"/><circle cx="265.1" cy="217.7" r="1.5"/><circle cx="267.9" cy="215.2" r="1.5"/><circle cx="246.3" cy="210.9" r="1.5"/><circle cx="251.0" cy="215.2" r="1.5"/><circle cx="247.3" cy="214.3" r="1.5"/><circle cx="260.1" cy="211.5" r="1.5"/><circle cx="272.0" cy="210.9" r="1.5"/><circle cx="263.8" cy="215.4" r="1.5"/><circle cx="271.6" cy="217.0" r="1.5"/><circle cx="253.6" cy="213.9" r="1.5"/><circle cx="255.1" cy="213.9" r="1.5"/><circle cx="247.9" cy="216.9" r="1.5"/><circle cx="245.1" cy="215.2" r="1.5"/><circle cx="251.5" cy="211.5" r="1.5"/><circle cx="251.9" cy="217.4" r="1.5"/><circle cx="265.2" cy="217.4" r="1.5"/><circle cx="268.7" cy="214.2" r="1.5"/><circle cx="248.7" cy="212.6" r="1.5"/><circle cx="273.3" cy="216.3" r="1.5"/><circle cx="260.5" cy="214.1" r="1.5"/><circle cx="271.9" cy="209.9" r="1.5"/><circle cx="246.3" cy="215.6" r="1.5"/><circle cx="267.8" cy="215.3" r="1.5"/><circle cx="259.2" cy="213.9" r="1.5"/><circle cx="244.9" cy="218.8" r="1.5"/><circle cx="270.4" cy="215.5" r="1.5"/><circle cx="257.3" cy="213.9" r="1.5"/><circle cx="266.2" cy="210.8" r="1.5"/><circle cx="246.9" cy="213.2" r="1.5"/><circle cx="244.6" cy="214.1" r="1.5"/><circle cx="268.1" cy="214.7" r="1.5"/><circle cx="255.2" cy="211.1" r="1.5"/><circle cx="264.5" cy="210.6" r="1.5"/><circle cx="260.1" cy="216.3" r="1.5"/><circle cx="264.5" cy="214.6" r="1.5"/><circle cx="244.6" cy="218.0" r="1.5"/><circle cx="272.2" cy="213.1" r="1.5"/><circle cx="245.5" cy="212.1" r="1.5"/><circle cx="266.4" cy="218.8" r="1.5"/><circle cx="273.1" cy="217.6" r="1.5"/><circle cx="259.2" cy="212.5" r="1.5"/><circle cx="258.6" cy="215.9" r="1.5"/><circle cx="258.3" cy="213.3" r="1.5"/><circle cx="272.0" cy="210.9" r="1.5"/><circle cx="273.1" cy="211.6" r="1.5"/><circle cx="258.3" cy="215.9" r="1.5"/><circle cx="270.8" cy="210.5" r="1.5"/><circle cx="253.2" cy="211.8" r="1.5"/><circle cx="254.6" cy="218.7" r="1.5"/><circle cx="258.2" cy="210.7" r="1.5"/><circle cx="259.9" cy="211.5" r="1.5"/><circle cx="268.8" cy="211.7" r="1.5"/><circle cx="253.1" cy="210.6" r="1.5"/><circle cx="247.0" cy="214.4" r="1.5"/><circle cx="246.9" cy="215.6" r="1.5"/><circle cx="270.1" cy="211.5" r="1.5"/><circle cx="273.2" cy="213.9" r="1.5"/><circle cx="259.5" cy="217.6" r="1.5"/><circle cx="258.5" cy="210.7" r="1.5"/><circle cx="254.3" cy="211.2" r="1.5"/><circle cx="253.3" cy="211.6" r="1.5"/><circle cx="250.0" cy="210.1" r="1.5"/><circle cx="247.9" cy="218.4" r="1.5"/><circle cx="261.1" cy="211.9" r="1.5"/><circle cx="265.0" cy="215.4" r="1.5"/><circle cx="265.1" cy="217.3" r="1.5"/><circle cx="254.0" cy="216.5" r="1.5"/><circle cx="251.1" cy="218.8" r="1.5"/><circle cx="250.7" cy="214.1" r="1.5"/><circle cx="262.1" cy="216.0" r="1.5"/><circle cx="262.2" cy="216.1" r="1.5"/><circle cx="267.9" cy="219.1" r="1.5"/><circle cx="266.8" cy="210.7" r="1.5"/><circle cx="261.2" cy="213.2" r="1.5"/><circle cx="272.9" cy="217.8" r="1.5"/><circle cx="247.3" cy="214.4" r="1.5"/><circle cx="265.4" cy="214.2" r="1.5"/><circle cx="258.5" cy="215.1" r="1.5"/><circle cx="257.8" cy="210.9" r="1.5"/><circle cx="246.5" cy="213.0" r="1.5"/><circle cx="247.2" cy="211.3" r="1.5"/><circle cx="252.1" cy="211.7" r="1.5"/><circle cx="253.7" cy="213.2" r="1.5"/><circle cx="259.2" cy="210.2" r="1.5"/><circle cx="258.2" cy="214.4" r="1.5"/><circle cx="259.0" cy="216.8" r="1.5"/><circle cx="271.7" cy="216.0" r="1.5"/><circle cx="248.9" cy="217.2" r="1.5"/><circle cx="265.3" cy="210.7" r="1.5"/><circle cx="261.6" cy="210.2" r="1.5"/><circle cx="251.0" cy="210.9" r="1.5"/><circle cx="266.7" cy="217.2" r="1.5"/><circle cx="247.2" cy="215.2" r="1.5"/><circle cx="256.6" cy="214.6" r="1.5"/><circle cx="265.3" cy="217.0" r="1.5"/><circle cx="251.9" cy="216.1" r="1.5"/><circle cx="249.2" cy="215.0" r="1.5"/><circle cx="261.8" cy="216.6" r="1.5"/><circle cx="248.5" cy="212.3" r="1.5"/><circle cx="247.0" cy="211.1" r="1.5"/><circle cx="262.3" cy="217.1" r="1.5"/><circle cx="244.8" cy="211.2" r="1.5"/><circle cx="245.2" cy="212.1" r="1.5"/><circle cx="259.9" cy="212.7" r="1.5"/><circle cx="250.3" cy="212.3" r="1.5"/><circle cx="251.9" cy="213.6" r="1.5"/><circle cx="272.4" cy="213.6" r="1.5"/><circle cx="249.1" cy="216.9" r="1.5"/><circle cx="256.3" cy="211.4" r="1.5"/><circle cx="267.5" cy="215.5" r="1.5"/><circle cx="261.5" cy="215.9" r="1.5"/><circle cx="258.7" cy="216.2" r="1.5"/><circle cx="271.8" cy="215.7" r="1.5"/><circle cx="253.7" cy="213.3" r="1.5"/><circle cx="250.9" cy="218.1" r="1.5"/><circle cx="257.4" cy="211.4" r="1.5"/><circle cx="255.1" cy="216.5" r="1.5"/><circle cx="252.9" cy="213.5" r="1.5"/><circle cx="252.3" cy="214.2" r="1.5"/><circle cx="259.3" cy="218.8" r="1.5"/><circle cx="253.8" cy="211.5" r="1.5"/><circle cx="250.6" cy="212.1" r="1.5"/><circle cx="246.7" cy="214.6" r="1.5"/><circle cx="256.7" cy="213.1" r="1.5"/><circle cx="244.7" cy="218.0" r="1.5"/><circle cx="256.2" cy="210.6" r="1.5"/><circle cx="259.0" cy="211.1" r="1.5"/><circle cx="259.9" cy="209.9" r="1.5"/><circle cx="246.8" cy="211.0" r="1.5"/><circle cx="251.9" cy="217.1" r="1.5"/><circle cx="259.7" cy="215.3" r="1.5"/><circle cx="273.2" cy="210.4" r="1.5"/><circle cx="265.4" cy="216.9" r="1.5"/><circle cx="251.3" cy="215.0" r="1.5"/><circle cx="253.8" cy="217.1" r="1.5"/><circle cx="250.5" cy="216.7" r="1.5"/><circle cx="253.1" cy="218.2" r="1.5"/><circle cx="253.4" cy="210.2" r="1.5"/><circle cx="268.7" cy="213.4" r="1.5"/><circle cx="272.1" cy="210.4" r="1.5"/><circle cx="247.2" cy="218.8" r="1.5"/><circle cx="254.1" cy="214.2" r="1.5"/><circle cx="273.3" cy="218.9" r="1.5"/><circle cx="264.7" cy="211.7" r="1.5"/><circle cx="252.1" cy="212.0" r="1.5"/><circle cx="269.6" cy="218.3" r="1.5"/><circle cx="263.5" cy="214.7" r="1.5"/><circle cx="266.8" cy="217.8" r="1.5"/><circle cx="263.6" cy="219.1" r="1.5"/><circle cx="245.5" cy="215.1" r="1.5"/><circle cx="254.5" cy="215.1" r="1.5"/><circle cx="250.6" cy="209.8" r="1.5"/><circle cx="256.5" cy="214.5" r="1.5"/><circle cx="254.9" cy="210.9" r="1.5"/><circle cx="249.3" cy="210.4" r="1.5"/><circle cx="250.1" cy="211.0" r="1.5"/><circle cx="256.9" cy="213.6" r="1.5"/><circle cx="251.3" cy="211.5" r="1.5"/><circle cx="250.9" cy="211.8" r="1.5"/><circle cx="263.5" cy="210.7" r="1.5"/><circle cx="273.1" cy="211.6" r="1.5"/><circle cx="249.5" cy="211.5" r="1.5"/><circle cx="247.5" cy="211.6" r="1.5"/><circle cx="271.1" cy="217.9" r="1.5"/><circle cx="245.7" cy="211.6" r="1.5"/><circle cx="254.6" cy="212.8" r="1.5"/><circle cx="268.1" cy="210.3" r="1.5"/><circle cx="259.5" cy="211.3" r="1.5"/><circle cx="270.8" cy="211.9" r="1.5"/><circle cx="255.2" cy="210.6" r="1.5"/><circle cx="256.7" cy="210.7" r="1.5"/><circle cx="255.6" cy="214.6" r="1.5"/><circle cx="245.5" cy="218.2" r="1.5"/><circle cx="271.3" cy="214.9" r="1.5"/><circle cx="265.6" cy="214.7" r="1.5"/><circle cx="265.5" cy="214.3" r="1.5"/><circle cx="248.7" cy="216.2" r="1.5"/><circle cx="262.8" cy="217.7" r="1.5"/><circle cx="271.7" cy="218.6" r="1.5"/><circle cx="260.8" cy="211.0" r="1.5"/><circle cx="265.6" cy="217.8" r="1.5"/><circle cx="247.6" cy="212.5" r="1.5"/><circle cx="256.3" cy="218.3" r="1.5"/><circle cx="248.1" cy="212.9" r="1.5"/><circle cx="245.3" cy="216.5" r="1.5"/><circle cx="271.7" cy="216.8" r="1.5"/><circle cx="269.1" cy="219.0" r="1.5"/><circle cx="250.3" cy="218.7" r="1.5"/><circle cx="265.6" cy="213.9" r="1.5"/><circle cx="266.7" cy="211.5" r="1.5"/><circle cx="265.4" cy="218.2" r="1.5"/><circle cx="257.7" cy="218.9" r="1.5"/><circle cx="267.5" cy="215.7" r="1.5"/><circle cx="257.9" cy="210.8" r="1.5"/><circle cx="273.1" cy="213.5" r="1.5"/><circle cx="255.7" cy="211.0" r="1.5"/><circle cx="268.9" cy="217.2" r="1.5"/><circle cx="257.6" cy="210.3" r="1.5"/><circle cx="272.9" cy="210.6" r="1.5"/><circle cx="258.6" cy="217.7" r="1.5"/><circle cx="270.2" cy="217.3" r="1.5"/><circle cx="261.9" cy="215.5" r="1.5"/><circle cx="269.0" cy="215.7" r="1.5"/><circle cx="255.4" cy="211.2" r="1.5"/><circle cx="265.5" cy="209.8" r="1.5"/><circle cx="248.0" cy="218.0" r="1.5"/><circle cx="264.0" cy="214.5" r="1.5"/><circle cx="270.3" cy="214.8" r="1.5"/><circle cx="245.9" cy="214.7" r="1.5"/><circle cx="251.7" cy="211.7" r="1.5"/><circle cx="267.8" cy="211.1" r="1.5"/><circle cx="247.7" cy="213.9" r="1.5"/><circle cx="250.3" cy="210.0" r="1.5"/><circle cx="248.8" cy="213.1" r="1.5"/><circle cx="265.2" cy="217.3" r="1.5"/><circle cx="261.3" cy="218.1" r="1.5"/><circle cx="246.1" cy="216.5" r="1.5"/><circle cx="246.8" cy="215.1" r="1.5"/><circle cx="264.1" cy="210.5" r="1.5"/><circle cx="252.1" cy="214.7" r="1.5"/><circle cx="264.4" cy="216.2" r="1.5"/><circle cx="253.5" cy="215.7" r="1.5"/><circle cx="268.6" cy="215.8" r="1.5"/><circle cx="266.7" cy="217.8" r="1.5"/><circle cx="253.4" cy="216.5" r="1.5"/><circle cx="251.1" cy="217.7" r="1.5"/><circle cx="255.9" cy="211.5" r="1.5"/><circle cx="263.6" cy="209.9" r="1.5"/><circle cx="253.6" cy="216.3" r="1.5"/><circle cx="251.5" cy="214.6" r="1.5"/><circle cx="248.1" cy="211.6" r="1.5"/><circle cx="256.7" cy="218.8" r="1.5"/><circle cx="259.1" cy="215.2" r="1.5"/><circle cx="250.1" cy="216.3" r="1.5"/><circle cx="263.8" cy="209.8" r="1.5"/><circle cx="261.9" cy="216.8" r="1.5"/><circle cx="245.5" cy="216.1" r="1.5"/><circle cx="251.5" cy="215.2" r="1.5"/><circle cx="257.5" cy="216.6" r="1.5"/><circle cx="249.3" cy="210.4" r="1.5"/><circle cx="271.9" cy="212.4" r="1.5"/><circle cx="271.3" cy="213.9" r="1.5"/><circle cx="265.9" cy="215.0" r="1.5"/><circle cx="263.6" cy="211.2" r="1.5"/><circle cx="264.9" cy="211.7" r="1.5"/><circle cx="262.2" cy="216.0" r="1.5"/><circle cx="267.7" cy="210.8" r="1.5"/><circle cx="251.3" cy="217.6" r="1.5"/><circle cx="244.7" cy="216.9" r="1.5"/><circle cx="249.7" cy="217.3" r="1.5"/><circle cx="249.3" cy="216.2" r="1.5"/><circle cx="249.4" cy="210.2" r="1.5"/><circle cx="246.6" cy="219.1" r="1.5"/><circle cx="271.1" cy="215.6" r="1.5"/><circle cx="266.1" cy="216.2" r="1.5"/><circle cx="244.9" cy="218.8" r="1.5"/><circle cx="271.1" cy="218.7" r="1.5"/><circle cx="257.4" cy="216.7" r="1.5"/><circle cx="263.1" cy="215.7" r="1.5"/><circle cx="267.8" cy="217.2" r="1.5"/><circle cx="260.1" cy="210.0" r="1.5"/><circle cx="259.9" cy="210.2" r="1.5"/><circle cx="245.9" cy="210.9" r="1.5"/><circle cx="255.8" cy="209.8" r="1.5"/><circle cx="264.7" cy="216.8" r="1.5"/><circle cx="266.7" cy="217.6" r="1.5"/><circle cx="259.7" cy="212.2" r="1.5"/><circle cx="249.3" cy="218.7" r="1.5"/><circle cx="268.8" cy="217.4" r="1.5"/><circle cx="266.5" cy="214.8" r="1.5"/><circle cx="250.1" cy="211.1" r="1.5"/><circle cx="255.3" cy="216.7" r="1.5"/><circle cx="270.4" cy="209.9" r="1.5"/><circle cx="254.1" cy="210.0" r="1.5"/><circle cx="247.7" cy="211.7" r="1.5"/><circle cx="261.4" cy="216.9" r="1.5"/><circle cx="256.0" cy="216.2" r="1.5"/><circle cx="264.0" cy="215.2" r="1.5"/><circle cx="256.9" cy="212.9" r="1.5"/><circle cx="254.6" cy="218.4" r="1.5"/><circle cx="258.8" cy="211.0" r="1.5"/><circle cx="251.4" cy="216.7" r="1.5"/><circle cx="270.9" cy="217.7" r="1.5"/><circle cx="272.2" cy="216.3" r="1.5"/><circle cx="250.6" cy="212.4" r="1.5"/><circle cx="270.2" cy="214.8" r="1.5"/><circle cx="252.3" cy="218.0" r="1.5"/><circle cx="244.7" cy="212.6" r="1.5"/><circle cx="265.9" cy="216.2" r="1.5"/><circle cx="258.2" cy="212.0" r="1.5"/><circle cx="264.6" cy="212.8" r="1.5"/><circle cx="271.0" cy="216.9" r="1.5"/><circle cx="272.6" cy="213.3" r="1.5"/><circle cx="253.7" cy="212.8" r="1.5"/><circle cx="253.3" cy="215.3" r="1.5"/><circle cx="268.3" cy="211.6" r="1.5"/><circle cx="261.8" cy="211.6" r="1.5"/><circle cx="269.5" cy="215.5" r="1.5"/><circle cx="246.7" cy="210.3" r="1.5"/><circle cx="246.3" cy="215.0" r="1.5"/><circle cx="306.5" cy="207.6" r="1.5"/><circle cx="325.2" cy="210.8" r="1.5"/><circle cx="299.1" cy="217.2" r="1.5"/><circle cx="300.8" cy="207.3" r="1.5"/><circle cx="309.7" cy="214.5" r="1.5"/><circle cx="308.9" cy="214.7" r="1.5"/><circle cx="303.0" cy="212.9" r="1.5"/><circle cx="310.4" cy="213.1" r="1.5"/><circle cx="305.6" cy="218.9" r="1.5"/><circle cx="301.4" cy="212.9" r="1.5"/><circle cx="317.9" cy="213.8" r="1.5"/><circle cx="324.0" cy="211.1" r="1.5"/><circle cx="302.9" cy="212.0" r="1.5"/><circle cx="317.3" cy="217.2" r="1.5"/><circle cx="309.0" cy="215.1" r="1.5"/><circle cx="321.3" cy="210.3" r="1.5"/><circle cx="300.5" cy="214.8" r="1.5"/><circle cx="305.8" cy="211.9" r="1.5"/><circle cx="307.6" cy="206.3" r="1.5"/><circle cx="306.2" cy="209.8" r="1.5"/><circle cx="299.8" cy="209.6" r="1.5"/><circle cx="304.5" cy="206.8" r="1.5"/><circle cx="303.1" cy="206.2" r="1.5"/><circle cx="321.7" cy="209.9" r="1.5"/><circle cx="311.1" cy="213.9" r="1.5"/><circle cx="310.8" cy="211.5" r="1.5"/><circle cx="310.6" cy="209.8" r="1.5"/><circle cx="316.8" cy="215.6" r="1.5"/><circle cx="308.7" cy="210.2" r="1.5"/><circle cx="308.6" cy="212.9" r="1.5"/><circle cx="315.4" cy="218.6" r="1.5"/><circle cx="302.9" cy="218.3" r="1.5"/><circle cx="301.2" cy="209.0" r="1.5"/><circle cx="305.0" cy="212.6" r="1.5"/><circle cx="307.6" cy="207.9" r="1.5"/><circle cx="311.7" cy="212.0" r="1.5"/><circle cx="313.8" cy="211.4" r="1.5"/><circle cx="307.3" cy="213.1" r="1.5"/><circle cx="302.6" cy="215.4" r="1.5"/><circle cx="314.0" cy="217.6" r="1.5"/><circle cx="308.0" cy="216.6" r="1.5"/><circle cx="301.4" cy="216.9" r="1.5"/><circle cx="319.7" cy="212.3" r="1.5"/><circle cx="325.2" cy="215.5" r="1.5"/><circle cx="315.5" cy="218.5" r="1.5"/><circle cx="301.4" cy="208.4" r="1.5"/><circle cx="300.8" cy="215.9" r="1.5"/><circle cx="306.1" cy="217.0" r="1.5"/><circle cx="299.4" cy="217.3" r="1.5"/><circle cx="303.3" cy="207.1" r="1.5"/><circle cx="305.5" cy="217.3" r="1.5"/><circle cx="307.2" cy="215.0" r="1.5"/><circle cx="299.3" cy="218.0" r="1.5"/><circle cx="307.2" cy="209.5" r="1.5"/><circle cx="307.9" cy="205.9" r="1.5"/><circle cx="304.9" cy="210.9" r="1.5"/><circle cx="314.8" cy="206.0" r="1.5"/><circle cx="319.3" cy="213.8" r="1.5"/><circle cx="307.6" cy="212.5" r="1.5"/><circle cx="305.9" cy="214.0" r="1.5"/><circle cx="321.3" cy="208.3" r="1.5"/><circle cx="308.4" cy="216.6" r="1.5"/><circle cx="304.1" cy="216.5" r="1.5"/><circle cx="310.3" cy="217.0" r="1.5"/><circle cx="327.2" cy="211.3" r="1.5"/><circle cx="303.6" cy="210.1" r="1.5"/><circle cx="301.1" cy="211.7" r="1.5"/><circle cx="313.6" cy="213.1" r="1.5"/><circle cx="305.7" cy="214.1" r="1.5"/><circle cx="306.4" cy="218.3" r="1.5"/><circle cx="305.2" cy="218.6" r="1.5"/><circle cx="311.8" cy="217.3" r="1.5"/><circle cx="301.7" cy="213.6" r="1.5"/><circle cx="301.2" cy="211.0" r="1.5"/><circle cx="305.1" cy="213.6" r="1.5"/><circle cx="301.7" cy="214.8" r="1.5"/><circle cx="308.8" cy="211.3" r="1.5"/><circle cx="327.9" cy="208.7" r="1.5"/><circle cx="320.6" cy="207.3" r="1.5"/><circle cx="310.9" cy="210.2" r="1.5"/><circle cx="319.1" cy="209.9" r="1.5"/><circle cx="307.4" cy="217.6" r="1.5"/><circle cx="305.5" cy="211.7" r="1.5"/><circle cx="305.8" cy="207.0" r="1.5"/><circle cx="306.2" cy="207.0" r="1.5"/><circle cx="318.6" cy="211.8" r="1.5"/><circle cx="312.2" cy="215.6" r="1.5"/><circle cx="302.7" cy="207.6" r="1.5"/><circle cx="320.7" cy="216.2" r="1.5"/><circle cx="324.4" cy="210.6" r="1.5"/><circle cx="312.1" cy="219.0" r="1.5"/><circle cx="300.0" cy="217.4" r="1.5"/><circle cx="313.5" cy="214.8" r="1.5"/><circle cx="311.4" cy="213.0" r="1.5"/><circle cx="303.0" cy="207.1" r="1.5"/><circle cx="302.2" cy="214.7" r="1.5"/><circle cx="313.1" cy="211.9" r="1.5"/><circle cx="322.8" cy="210.6" r="1.5"/><circle cx="304.4" cy="216.8" r="1.5"/><circle cx="318.2" cy="212.5" r="1.5"/><circle cx="318.4" cy="217.3" r="1.5"/><circle cx="328.1" cy="215.6" r="1.5"/><circle cx="307.6" cy="214.9" r="1.5"/><circle cx="307.7" cy="208.1" r="1.5"/><circle cx="322.4" cy="213.9" r="1.5"/><circle cx="299.8" cy="218.5" r="1.5"/><circle cx="309.7" cy="210.0" r="1.5"/><circle cx="301.3" cy="214.8" r="1.5"/><circle cx="330.2" cy="214.6" r="1.5"/><circle cx="300.7" cy="206.2" r="1.5"/><circle cx="301.7" cy="214.8" r="1.5"/><circle cx="312.2" cy="217.5" r="1.5"/><circle cx="302.1" cy="215.8" r="1.5"/><circle cx="318.5" cy="216.7" r="1.5"/><circle cx="298.8" cy="205.8" r="1.5"/><circle cx="303.1" cy="215.6" r="1.5"/><circle cx="304.4" cy="219.2" r="1.5"/><circle cx="305.1" cy="219.0" r="1.5"/><circle cx="304.9" cy="210.9" r="1.5"/><circle cx="302.8" cy="212.9" r="1.5"/><circle cx="305.2" cy="216.7" r="1.5"/><circle cx="314.9" cy="216.0" r="1.5"/><circle cx="307.3" cy="214.6" r="1.5"/><circle cx="300.5" cy="211.6" r="1.5"/><circle cx="304.2" cy="215.6" r="1.5"/><circle cx="314.9" cy="207.9" r="1.5"/><circle cx="325.3" cy="213.7" r="1.5"/><circle cx="311.2" cy="209.6" r="1.5"/><circle cx="306.3" cy="206.5" r="1.5"/><circle cx="324.9" cy="216.9" r="1.5"/><circle cx="323.6" cy="208.7" r="1.5"/><circle cx="314.7" cy="217.8" r="1.5"/><circle cx="321.5" cy="215.8" r="1.5"/><circle cx="320.1" cy="209.4" r="1.5"/><circle cx="321.5" cy="216.3" r="1.5"/><circle cx="316.3" cy="207.5" r="1.5"/><circle cx="319.8" cy="218.9" r="1.5"/><circle cx="302.2" cy="213.4" r="1.5"/><circle cx="305.2" cy="219.0" r="1.5"/><circle cx="305.8" cy="218.5" r="1.5"/><circle cx="304.8" cy="206.2" r="1.5"/><circle cx="319.2" cy="209.5" r="1.5"/><circle cx="327.5" cy="214.6" r="1.5"/><circle cx="309.3" cy="215.5" r="1.5"/><circle cx="309.1" cy="211.5" r="1.5"/><circle cx="312.4" cy="212.6" r="1.5"/><circle cx="314.0" cy="216.7" r="1.5"/><circle cx="310.9" cy="210.8" r="1.5"/><circle cx="302.1" cy="209.6" r="1.5"/><circle cx="300.2" cy="213.0" r="1.5"/><circle cx="318.9" cy="213.5" r="1.5"/><circle cx="299.0" cy="211.7" r="1.5"/><circle cx="304.2" cy="208.0" r="1.5"/><circle cx="315.6" cy="209.9" r="1.5"/><circle cx="303.8" cy="208.7" r="1.5"/><circle cx="308.3" cy="208.3" r="1.5"/><circle cx="317.3" cy="210.9" r="1.5"/><circle cx="311.5" cy="214.6" r="1.5"/><circle cx="320.7" cy="211.8" r="1.5"/><circle cx="306.3" cy="207.0" r="1.5"/><circle cx="299.0" cy="214.8" r="1.5"/><circle cx="301.8" cy="213.4" r="1.5"/><circle cx="304.0" cy="208.9" r="1.5"/><circle cx="310.8" cy="207.8" r="1.5"/><circle cx="307.8" cy="215.7" r="1.5"/><circle cx="322.8" cy="206.4" r="1.5"/><circle cx="312.4" cy="215.6" r="1.5"/><circle cx="315.3" cy="215.7" r="1.5"/><circle cx="332.1" cy="207.5" r="1.5"/><circle cx="306.9" cy="212.7" r="1.5"/><circle cx="303.8" cy="213.9" r="1.5"/><circle cx="301.5" cy="208.4" r="1.5"/><circle cx="308.6" cy="211.6" r="1.5"/><circle cx="301.1" cy="219.0" r="1.5"/><circle cx="309.7" cy="216.7" r="1.5"/><circle cx="322.0" cy="212.6" r="1.5"/><circle cx="316.1" cy="210.0" r="1.5"/><circle cx="305.9" cy="218.3" r="1.5"/><circle cx="317.4" cy="212.7" r="1.5"/><circle cx="301.9" cy="212.8" r="1.5"/><circle cx="318.2" cy="214.5" r="1.5"/><circle cx="307.3" cy="209.8" r="1.5"/><circle cx="299.7" cy="213.0" r="1.5"/><circle cx="332.7" cy="208.0" r="1.5"/><circle cx="311.1" cy="213.4" r="1.5"/><circle cx="300.3" cy="215.4" r="1.5"/><circle cx="313.1" cy="215.6" r="1.5"/><circle cx="301.4" cy="205.8" r="1.5"/><circle cx="316.8" cy="211.6" r="1.5"/><circle cx="302.2" cy="208.2" r="1.5"/><circle cx="309.4" cy="212.5" r="1.5"/><circle cx="310.5" cy="208.5" r="1.5"/><circle cx="313.2" cy="218.1" r="1.5"/><circle cx="304.9" cy="211.6" r="1.5"/><circle cx="315.0" cy="217.4" r="1.5"/><circle cx="301.4" cy="214.6" r="1.5"/><circle cx="309.8" cy="214.2" r="1.5"/><circle cx="300.4" cy="208.4" r="1.5"/><circle cx="301.6" cy="213.6" r="1.5"/><circle cx="309.3" cy="211.0" r="1.5"/><circle cx="301.9" cy="218.4" r="1.5"/><circle cx="310.1" cy="215.6" r="1.5"/><circle cx="314.7" cy="215.2" r="1.5"/><circle cx="311.8" cy="212.1" r="1.5"/><circle cx="301.4" cy="209.6" r="1.5"/><circle cx="310.9" cy="209.0" r="1.5"/><circle cx="321.3" cy="210.7" r="1.5"/><circle cx="310.2" cy="210.7" r="1.5"/><circle cx="322.7" cy="216.7" r="1.5"/><circle cx="320.9" cy="214.4" r="1.5"/><circle cx="311.6" cy="207.1" r="1.5"/><circle cx="311.8" cy="210.6" r="1.5"/><circle cx="330.4" cy="218.5" r="1.5"/><circle cx="301.9" cy="216.6" r="1.5"/><circle cx="301.9" cy="208.6" r="1.5"/><circle cx="299.1" cy="210.0" r="1.5"/><circle cx="320.4" cy="213.4" r="1.5"/><circle cx="303.6" cy="216.1" r="1.5"/><circle cx="307.6" cy="208.0" r="1.5"/><circle cx="318.5" cy="216.7" r="1.5"/><circle cx="320.7" cy="216.1" r="1.5"/><circle cx="302.3" cy="209.7" r="1.5"/><circle cx="301.3" cy="216.4" r="1.5"/><circle cx="312.6" cy="206.5" r="1.5"/><circle cx="311.5" cy="211.0" r="1.5"/><circle cx="301.9" cy="212.4" r="1.5"/><circle cx="301.7" cy="212.9" r="1.5"/><circle cx="316.7" cy="211.9" r="1.5"/><circle cx="307.4" cy="209.9" r="1.5"/><circle cx="301.8" cy="214.8" r="1.5"/><circle cx="303.5" cy="207.6" r="1.5"/><circle cx="311.7" cy="215.9" r="1.5"/><circle cx="323.5" cy="215.2" r="1.5"/><circle cx="331.6" cy="208.4" r="1.5"/><circle cx="299.9" cy="211.3" r="1.5"/><circle cx="299.0" cy="214.2" r="1.5"/><circle cx="323.9" cy="209.9" r="1.5"/><circle cx="310.5" cy="206.6" r="1.5"/><circle cx="308.6" cy="211.5" r="1.5"/><circle cx="309.4" cy="214.6" r="1.5"/><circle cx="309.1" cy="213.4" r="1.5"/><circle cx="309.2" cy="212.6" r="1.5"/><circle cx="313.7" cy="212.5" r="1.5"/><circle cx="304.4" cy="210.0" r="1.5"/><circle cx="298.8" cy="207.9" r="1.5"/><circle cx="316.3" cy="208.8" r="1.5"/><circle cx="306.3" cy="212.7" r="1.5"/><circle cx="302.3" cy="208.9" r="1.5"/><circle cx="312.7" cy="212.7" r="1.5"/><circle cx="307.0" cy="209.3" r="1.5"/><circle cx="302.3" cy="214.7" r="1.5"/><circle cx="315.7" cy="209.0" r="1.5"/><circle cx="306.7" cy="206.1" r="1.5"/><circle cx="314.1" cy="215.3" r="1.5"/><circle cx="315.5" cy="211.9" r="1.5"/><circle cx="308.9" cy="207.0" r="1.5"/><circle cx="308.8" cy="215.0" r="1.5"/><circle cx="305.4" cy="213.5" r="1.5"/><circle cx="330.3" cy="213.2" r="1.5"/><circle cx="316.1" cy="209.8" r="1.5"/><circle cx="304.6" cy="206.9" r="1.5"/><circle cx="301.5" cy="207.5" r="1.5"/><circle cx="307.9" cy="211.9" r="1.5"/><circle cx="304.1" cy="208.2" r="1.5"/><circle cx="317.9" cy="218.5" r="1.5"/><circle cx="322.3" cy="210.1" r="1.5"/><circle cx="303.4" cy="212.4" r="1.5"/><circle cx="305.7" cy="218.1" r="1.5"/><circle cx="304.1" cy="213.8" r="1.5"/><circle cx="314.2" cy="214.9" r="1.5"/><circle cx="317.0" cy="217.2" r="1.5"/><circle cx="300.4" cy="216.1" r="1.5"/><circle cx="300.2" cy="212.2" r="1.5"/><circle cx="301.4" cy="207.1" r="1.5"/><circle cx="299.4" cy="214.3" r="1.5"/><circle cx="330.7" cy="213.2" r="1.5"/><circle cx="301.9" cy="212.5" r="1.5"/><circle cx="315.0" cy="206.9" r="1.5"/><circle cx="313.7" cy="215.2" r="1.5"/><circle cx="305.7" cy="212.6" r="1.5"/><circle cx="321.1" cy="215.3" r="1.5"/><circle cx="306.0" cy="206.8" r="1.5"/><circle cx="324.3" cy="211.1" r="1.5"/><circle cx="306.6" cy="208.5" r="1.5"/><circle cx="318.9" cy="213.2" r="1.5"/><circle cx="305.8" cy="214.8" r="1.5"/><circle cx="304.8" cy="207.2" r="1.5"/><circle cx="312.3" cy="217.8" r="1.5"/><circle cx="300.1" cy="217.3" r="1.5"/><circle cx="316.1" cy="217.6" r="1.5"/><circle cx="304.0" cy="217.4" r="1.5"/><circle cx="309.4" cy="209.8" r="1.5"/><circle cx="312.0" cy="210.8" r="1.5"/><circle cx="315.2" cy="215.4" r="1.5"/><circle cx="321.6" cy="208.4" r="1.5"/><circle cx="313.1" cy="212.0" r="1.5"/><circle cx="300.8" cy="214.0" r="1.5"/><circle cx="316.0" cy="210.9" r="1.5"/><circle cx="305.2" cy="211.8" r="1.5"/><circle cx="306.7" cy="217.3" r="1.5"/><circle cx="308.8" cy="213.2" r="1.5"/><circle cx="315.1" cy="208.2" r="1.5"/><circle cx="318.2" cy="210.6" r="1.5"/><circle cx="300.8" cy="213.5" r="1.5"/><circle cx="310.4" cy="207.5" r="1.5"/><circle cx="307.9" cy="212.4" r="1.5"/><circle cx="299.3" cy="207.9" r="1.5"/><circle cx="314.7" cy="218.8" r="1.5"/><circle cx="324.4" cy="212.5" r="1.5"/><circle cx="299.7" cy="215.4" r="1.5"/><circle cx="298.7" cy="209.5" r="1.5"/><circle cx="312.9" cy="210.8" r="1.5"/><circle cx="313.8" cy="213.6" r="1.5"/><circle cx="298.7" cy="217.3" r="1.5"/><circle cx="315.5" cy="219.0" r="1.5"/><circle cx="315.2" cy="206.5" r="1.5"/><circle cx="315.4" cy="215.3" r="1.5"/><circle cx="300.5" cy="212.0" r="1.5"/><circle cx="300.2" cy="218.6" r="1.5"/><circle cx="319.6" cy="207.2" r="1.5"/><circle cx="326.2" cy="209.9" r="1.5"/><circle cx="313.6" cy="217.4" r="1.5"/><circle cx="313.0" cy="208.5" r="1.5"/><circle cx="313.0" cy="213.0" r="1.5"/><circle cx="301.6" cy="218.8" r="1.5"/><circle cx="311.6" cy="217.1" r="1.5"/><circle cx="312.4" cy="217.4" r="1.5"/><circle cx="299.3" cy="217.0" r="1.5"/><circle cx="325.6" cy="213.4" r="1.5"/><circle cx="306.8" cy="218.5" r="1.5"/><circle cx="299.0" cy="209.2" r="1.5"/><circle cx="299.8" cy="213.5" r="1.5"/><circle cx="300.4" cy="210.3" r="1.5"/><circle cx="300.8" cy="207.5" r="1.5"/><circle cx="328.7" cy="216.7" r="1.5"/><circle cx="308.4" cy="214.8" r="1.5"/><circle cx="307.6" cy="205.9" r="1.5"/><circle cx="302.9" cy="212.3" r="1.5"/><circle cx="320.6" cy="217.2" r="1.5"/><circle cx="298.7" cy="214.5" r="1.5"/></g>
<g fill="#e82838" fill-opacity="0.5"><circle cx="226.7" cy="168.7" r="1.5"/><circle cx="232.5" cy="169.3" r="1.5"/><circle cx="229.6" cy="172.2" r="1.5"/><circle cx="228.4" cy="174.5" r="1.5"/><circle cx="230.1" cy="175.1" r="1.5"/><circle cx="236.0" cy="181.5" r="1.5"/><circle cx="240.0" cy="168.1" r="1.5"/><circle cx="242.9" cy="177.4" r="1.5"/><circle cx="242.7" cy="183.6" r="1.5"/><circle cx="248.9" cy="185.4" r="1.5"/><circle cx="253.4" cy="183.2" r="1.5"/><circle cx="258.3" cy="184.5" r="1.5"/><circle cx="251.2" cy="188.1" r="1.5"/><circle cx="256.5" cy="188.1" r="1.5"/><circle cx="260.5" cy="189.0" r="1.5"/><circle cx="258.8" cy="186.8" r="1.5"/><circle cx="241.8" cy="188.5" r="1.5"/><circle cx="242.7" cy="191.2" r="1.5"/><circle cx="248.2" cy="184.4" r="1.5"/><circle cx="249.3" cy="187.9" r="1.5"/><circle cx="253.4" cy="170.7" r="1.5"/><circle cx="254.7" cy="170.1" r="1.5"/><circle cx="246.2" cy="180.1" r="1.5"/><circle cx="251.6" cy="184.7" r="1.5"/><circle cx="253.2" cy="186.3" r="1.5"/><circle cx="255.5" cy="182.4" r="1.5"/><circle cx="257.8" cy="187.0" r="1.5"/><circle cx="260.1" cy="184.7" r="1.5"/><circle cx="243.1" cy="184.0" r="1.5"/><circle cx="245.0" cy="189.5" r="1.5"/><circle cx="262.5" cy="190.5" r="1.5"/><circle cx="264.5" cy="187.5" r="1.5"/><circle cx="247.0" cy="190.8" r="1.5"/><circle cx="252.0" cy="191.0" r="1.5"/><circle cx="238.5" cy="186.0" r="1.5"/><circle cx="233.0" cy="179.0" r="1.5"/><circle cx="226.0" cy="180.5" r="1.5"/><circle cx="231.0" cy="184.5" r="1.5"/><circle cx="236.0" cy="190.0" r="1.5"/><circle cx="226.2" cy="157.0" r="1.5"/><circle cx="226.5" cy="168.5" r="1.5"/><circle cx="324.5" cy="175.8" r="1.5"/><circle cx="317.8" cy="180.9" r="1.5"/><circle cx="316.3" cy="183.5" r="1.5"/><circle cx="334.8" cy="177.3" r="1.5"/><circle cx="343.5" cy="175.8" r="1.5"/><circle cx="339.4" cy="180.4" r="1.5"/><circle cx="326.6" cy="187.1" r="1.5"/><circle cx="329.2" cy="186.6" r="1.5"/><circle cx="331.2" cy="189.2" r="1.5"/><circle cx="330.7" cy="184.5" r="1.5"/><circle cx="326.7" cy="186.2" r="1.5"/><circle cx="329.3" cy="187.7" r="1.5"/><circle cx="330.8" cy="189.8" r="1.5"/><circle cx="332.9" cy="190.8" r="1.5"/></g>
<line x1="137.35" y1="192.32" x2="400.0" y2="192.32" stroke="#4a4a4a" stroke-width="0.9" stroke-dasharray="3.1 2.09"/>
<g stroke="#1a1a1a" stroke-width="0.7" stroke-linecap="round"><line x1="226.3" y1="156.6" x2="230.8" y2="166.5"/><line x1="226.6" y1="168.6" x2="229.3" y2="173.4"/><line x1="241.4" y1="167.2" x2="241.4" y2="173.2"/><line x1="256.0" y1="157.8" x2="252.2" y2="166.8"/><line x1="227.6" y1="177.3" x2="235.2" y2="180.8"/><line x1="267.6" y1="176.6" x2="268.8" y2="176.0"/><line x1="217.2" y1="188.4" x2="219.6" y2="188.0"/><line x1="261.8" y1="187.2" x2="262.6" y2="186.6"/><line x1="261.9" y1="196.6" x2="262.8" y2="194.6"/><line x1="239.6" y1="205.6" x2="240.6" y2="203.6"/><line x1="297.0" y1="197.8" x2="298.0" y2="195.2"/><line x1="339.2" y1="180.4" x2="340.0" y2="179.8"/><line x1="335.6" y1="191.8" x2="333.0" y2="190.6"/><line x1="334.8" y1="202.0" x2="330.4" y2="195.2"/><line x1="315.4" y1="184.3" x2="318.3" y2="180.6"/><line x1="256.4" y1="168.0" x2="254.6" y2="170.8"/><line x1="269.0" y1="190.6" x2="284.8" y2="192.7"/><line x1="324.3" y1="175.3" x2="324.6" y2="176.2"/><line x1="343.6" y1="175.3" x2="343.4" y2="176.2"/></g>
<text x="197.7" y="158.8" class="lb">RAD17</text>
<text x="202.9" y="169.2" class="lb">SUB1</text>
<text x="229.6" y="166.4" class="lb">RRN3</text>
<text x="256.9" y="159.1" class="lb">ZNF17</text>
<text x="256.9" y="169.2" class="lb">DGKZ</text>
<text x="207.3" y="180.1" class="lb">SIX2</text>
<text x="237.3" y="179.8" class="lb">RUNX3</text>
<text x="270.3" y="179.8" class="lb">XRCC5</text>
<text x="185.0" y="190.1" class="lb">ZNF837</text>
<text x="220.6" y="189.9" class="lb">GATA5</text>
<text x="264.5" y="189.9" class="lb">KIT</text>
<text x="201.1" y="201.1" class="lb">ZBTB7A</text>
<text x="239.4" y="201.0" class="lb">PAX7</text>
<text x="264.7" y="200.9" class="lb">ZNF732</text>
<text x="206.8" y="210.7" class="lb">ZNF107</text>
<text x="242.3" y="210.8" class="lb">ZNF33B</text>
<text x="305.0" y="174.5" class="lb">HSF2</text>
<text x="339.7" y="174.5" class="lb">KLF10</text>
<text x="321.1" y="185.3" class="lb">FST</text>
<text x="341.6" y="186.2" class="lb">PLK2</text>
<text x="292.1" y="189.8" class="lb">UBR2</text>
<text x="335.7" y="195.5" class="lb">ZNF559</text>
<text x="299.0" y="200.8" class="lb">ZNF343</text>
<text x="334.5" y="206.9" class="lb">NFATC4</text>
<line x1="137.3" y1="56.0" x2="137.3" y2="227.6" stroke="#333" stroke-width="1.4"/>
<line x1="136.60000000000002" y1="226.9" x2="400.0" y2="226.9" stroke="#333" stroke-width="1.4"/>
<line x1="133.9" y1="219.20" x2="137.3" y2="219.20" stroke="#111" stroke-width="1.1"/>
<text x="130.5" y="223.80" text-anchor="end" class="tk">0</text>
<line x1="133.9" y1="177.34" x2="137.3" y2="177.34" stroke="#111" stroke-width="1.1"/>
<text x="130.5" y="181.94" text-anchor="end" class="tk">2</text>
<line x1="133.9" y1="135.48" x2="137.3" y2="135.48" stroke="#111" stroke-width="1.1"/>
<text x="130.5" y="140.08" text-anchor="end" class="tk">4</text>
<line x1="133.9" y1="93.62" x2="137.3" y2="93.62" stroke="#111" stroke-width="1.1"/>
<text x="130.5" y="98.22" text-anchor="end" class="tk">6</text>
<line x1="162.20" y1="226.9" x2="162.20" y2="230.5" stroke="#111" stroke-width="1.1"/>
<text x="162.20" y="241.6" text-anchor="middle" class="tk">−10</text>
<line x1="224.10" y1="226.9" x2="224.10" y2="230.5" stroke="#111" stroke-width="1.1"/>
<text x="224.10" y="241.6" text-anchor="middle" class="tk">−5</text>
<line x1="286.00" y1="226.9" x2="286.00" y2="230.5" stroke="#111" stroke-width="1.1"/>
<text x="286.00" y="241.6" text-anchor="middle" class="tk">0</text>
<line x1="347.90" y1="226.9" x2="347.90" y2="230.5" stroke="#111" stroke-width="1.1"/>
<text x="347.90" y="241.6" text-anchor="middle" class="tk">5</text>
<text x="229.6" y="256.0" class="ti">Log<tspan style="font-size:7.6px" dy="2">2</tspan><tspan dy="-2"> fold change</tspan></text>
<g transform="translate(115.9,162.6) rotate(-90)"><text x="-1.4" y="0" class="ti">−</text><text x="7.0" y="0" class="ti">Log</text><text x="25.4" y="2.2" class="ti" style="font-size:8.1px;stroke-width:0.32px">10</text><text x="37.4" y="0" class="ti" style="font-style:italic;stroke-width:0.55px">P</text></g>
<text x="400" y="274.4" text-anchor="end" class="cap">total = 1983 variables</text>
<circle cx="184.2" cy="29.6" r="3.6" fill="#4d4d4d" fill-opacity="0.5"/>
<text x="195.6" y="33.1" class="lg">NS</text>
<circle cx="219.5" cy="29.6" r="3.6" fill="#228b22" fill-opacity="0.5"/>
<text x="231.1" y="32.7" class="lg">Log<tspan style="font-size:6px" dy="1.4">2</tspan><tspan dy="-1.4"> FC</tspan></text>
<circle cx="273.3" cy="29.4" r="3.6" fill="#ee0000" fill-opacity="0.5"/>
<text x="285.0" y="32.4" class="lg">p – value and log<tspan style="font-size:6px" dy="1.4">2</tspan><tspan dy="-1.4"> FC</tspan></text>
</svg>
</body></html>
